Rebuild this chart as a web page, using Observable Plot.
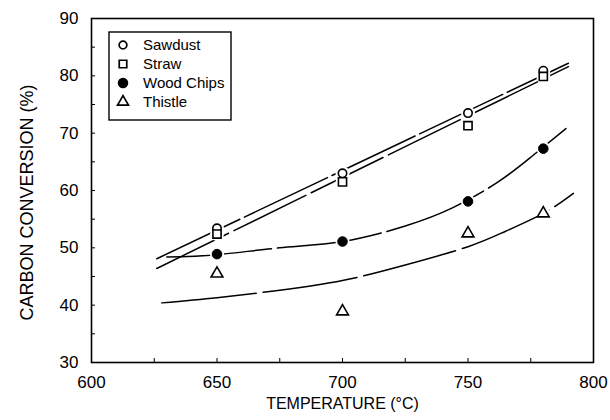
<!DOCTYPE html>
<html>
<head>
<meta charset="utf-8">
<script src="https://cdn.jsdelivr.net/npm/d3@7"></script>
<script src="https://cdn.jsdelivr.net/npm/@observablehq/plot@0.6"></script>
<style>
  html, body { margin: 0; padding: 0; background: #fff; }
  #chart { width: 610px; height: 420px; }
</style>
</head>
<body>
<div id="chart"></div>
<script>
// ---- data ----
const seriesNames = ["Sawdust", "Straw", "Wood Chips", "Thistle"];
const temps = [650, 700, 750, 780];
const sawdust = [53.4, 63.0, 73.5, 80.9];
const straw = [52.4, 61.5, 71.3, 79.9];
const woodChips = [48.9, 51.1, 58.1, 67.3];
const thistle = [45.5, 38.9, 52.5, 56.0];

// fitted curves
const sawdustFitT = [626, 790];
const sawdustFitV = [48.1, 82.2];
const strawFitT = [626, 790];
const strawFitV = [46.4, 81.6];
const woodFitT = [630, 650, 675, 700, 725, 744, 762, 775, 789];
const woodFitV = [48.4, 48.8, 50.0, 51.1, 53.8, 57.0, 61.5, 65.8, 70.8];
const thistleFitT = [628, 650, 675, 700, 725, 750, 765, 780, 792];
const thistleFitV = [40.4, 41.3, 42.6, 44.3, 47.0, 50.2, 52.9, 56.0, 59.5];

const xTicks = [600, 625, 650, 675, 700, 725, 750, 775, 800];
const xLabels = [600, 650, 700, 750, 800];
const yTicks = [30, 35, 40, 45, 50, 55, 60, 65, 70, 75, 80, 85, 90];
const yLabels = [30, 40, 50, 60, 70, 80, 90];
const xTitle = "TEMPERATURE (°C)";
const yTitle = "CARBON CONVERSION (%)";

// ---- build tables ----
const pts = vals => temps.map((t, i) => ({x: t, y: vals[i]}));
const fit = (T, V) => T.map((t, i) => ({x: t, y: V[i]}));
const allPts = [sawdust, straw, woodChips, thistle].flatMap(pts);

const symbolsOf = {"Sawdust": "circle", "Straw": "square", "Wood Chips": "circle", "Thistle": "triangle"};
const fillOf = {"Sawdust": "white", "Straw": "white", "Wood Chips": "black", "Thistle": "white"};
const rOf = {"Sawdust": 4.2, "Straw": 4.6, "Wood Chips": 4.8, "Thistle": 4.4};

const lineStyle = {x: "x", y: "y", stroke: "black", strokeWidth: 1.5, curve: "natural"};

const chart = Plot.plot({
  width: 610,
  height: 420,
  marginLeft: 91,
  marginRight: 17,
  marginTop: 18,
  marginBottom: 58,
  x: {domain: [600, 800]},
  y: {domain: [30, 90]},
  style: {fontFamily: "'Liberation Sans', Arial, sans-serif", fontSize: "17px", color: "black", background: "white"},
  marks: [
    Plot.line(fit(sawdustFitT, sawdustFitV), {...lineStyle, strokeDasharray: "92,5"}),
    Plot.line(fit(strawFitT, strawFitV), {...lineStyle, strokeDasharray: "80,6"}),
    Plot.line(fit(woodFitT, woodFitV), {...lineStyle, strokeDasharray: "105,6"}),
    Plot.line(fit(thistleFitT, thistleFitV), {...lineStyle, strokeDasharray: "95,7"}),
    Plot.dot(allPts, {x: "x", y: "y", r: 7, fill: "white", stroke: null}),
    Plot.dot(pts(sawdust), {x: "x", y: "y", symbol: "circle", r: rOf["Sawdust"], fill: "white", stroke: "black", strokeWidth: 1.6}),
    Plot.dot(pts(straw), {x: "x", y: "y", symbol: "square", r: rOf["Straw"], fill: "white", stroke: "black", strokeWidth: 1.6}),
    Plot.dot(pts(woodChips), {x: "x", y: "y", symbol: "circle", r: rOf["Wood Chips"], fill: "black", stroke: "black", strokeWidth: 1}),
    Plot.dot(pts(thistle), {x: "x", y: "y", symbol: "triangle", r: rOf["Thistle"], fill: "white", stroke: "black", strokeWidth: 1.6}),
    Plot.frame({stroke: "black", strokeWidth: 1.6}),
    Plot.axisX({ticks: xTicks, tickSize: -4, tickPadding: 17, tickFormat: d => xLabels.includes(d) ? String(d) : "", label: null, fontSize: 17}),
    Plot.axisY({ticks: yTicks, tickSize: -4, tickPadding: 17, tickFormat: d => yLabels.includes(d) ? String(d) : "", label: null, fontSize: 17}),
    Plot.text([xTitle], {text: d => d, frameAnchor: "bottom", dy: 46, fontSize: 16}),
    Plot.text([yTitle], {text: d => d, frameAnchor: "left", textAnchor: "middle", dx: -64, dy: 12, rotate: -90, fontSize: 18})
  ]
});

document.getElementById("chart").appendChild(chart);

// ---- legend inside the plot ----
const svg = d3.select(chart);
const lg = svg.append("g").attr("class", "legend").attr("text-anchor", "start");
lg.append("rect")
  .attr("x", 109).attr("y", 32).attr("width", 122).attr("height", 88)
  .attr("fill", "white").attr("stroke", "black").attr("stroke-width", 1.4);
seriesNames.forEach((name, i) => {
  const cy = 45 + i * 19;
  const sym = {circle: d3.symbolCircle, square: d3.symbolSquare, triangle: d3.symbolTriangle}[symbolsOf[name]];
  lg.append("path")
    .attr("d", d3.symbol(sym, Math.PI * rOf[name] * rOf[name] * 0.85)())
    .attr("transform", `translate(123,${cy})`)
    .attr("fill", fillOf[name]).attr("stroke", "black").attr("stroke-width", 1.7);
  lg.append("text")
    .attr("x", 143).attr("y", cy).attr("dy", "0.35em")
    .attr("text-anchor", "start")
    .attr("font-family", "'Liberation Sans', Arial, sans-serif")
    .attr("font-size", 15).attr("fill", "black")
    .text(name);
});
</script>
</body>
</html>
